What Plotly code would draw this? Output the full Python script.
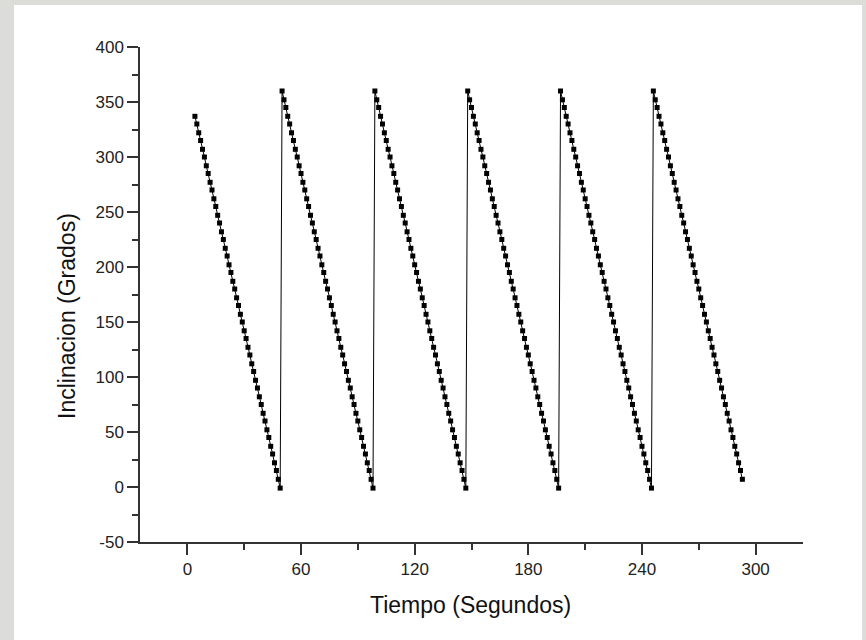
import plotly.graph_objects as go

# Sample interval 1 s; start time (s) of each descending sweep
cycle_start = [4, 50, 99, 148, 197, 246]

# Inclination (degrees) read for each sweep
cycle1 = [337, 330, 322, 315, 307, 300, 292, 285, 277, 270, 262, 255, 247, 240, 232, 225,
          217, 210, 202, 195, 187, 180, 172, 165, 157, 150, 142, 135, 127, 120, 112, 105,
          97, 90, 82, 75, 67, 60, 52, 45, 37, 30, 22, 15, 7, -1]
cycle2 = [360, 352, 345, 337, 330, 322, 315, 307, 300, 292, 285, 277, 270, 262, 255, 247,
          240, 232, 225, 217, 210, 202, 195, 187, 180, 172, 165, 157, 150, 142, 135, 127,
          120, 112, 105, 97, 90, 82, 75, 67, 60, 52, 45, 37, 30, 22, 15, 7, -1]
cycle3 = [360, 352, 345, 337, 330, 322, 315, 307, 300, 292, 285, 277, 270, 262, 255, 247,
          240, 232, 225, 217, 210, 202, 195, 187, 180, 172, 165, 157, 150, 142, 135, 127,
          120, 112, 105, 97, 90, 82, 75, 67, 60, 52, 45, 37, 30, 22, 15, 7, -1]
cycle4 = [360, 352, 345, 337, 330, 322, 315, 307, 300, 292, 285, 277, 270, 262, 255, 247,
          240, 232, 225, 217, 210, 202, 195, 187, 180, 172, 165, 157, 150, 142, 135, 127,
          120, 112, 105, 97, 90, 82, 75, 67, 60, 52, 45, 37, 30, 22, 15, 7, -1]
cycle5 = [360, 352, 345, 337, 330, 322, 315, 307, 300, 292, 285, 277, 270, 262, 255, 247,
          240, 232, 225, 217, 210, 202, 195, 187, 180, 172, 165, 157, 150, 142, 135, 127,
          120, 112, 105, 97, 90, 82, 75, 67, 60, 52, 45, 37, 30, 22, 15, 7, -1]
cycle6 = [360, 352, 345, 337, 330, 322, 315, 307, 300, 292, 285, 277, 270, 262, 255, 247,
          240, 232, 225, 217, 210, 202, 195, 187, 180, 172, 165, 157, 150, 142, 135, 127,
          120, 112, 105, 97, 90, 82, 75, 67, 60, 52, 45, 37, 30, 22, 15, 7]
cycles = [cycle1, cycle2, cycle3, cycle4, cycle5, cycle6]

x_ticks = [0, 60, 120, 180, 240, 300]
y_ticks = [-50, 0, 50, 100, 150, 200, 250, 300, 350, 400]
x_title = "Tiempo (Segundos)"
y_title = "Inclinacion (Grados)"

t, deg = [], []
for start, vals in zip(cycle_start, cycles):
    t.extend(range(start, start + len(vals)))
    deg.extend(vals)

fig = go.Figure()
fig.add_trace(go.Scatter(
    x=t, y=deg, mode="lines+markers",
    line=dict(color="black", width=1),
    marker=dict(symbol="square", size=5, color="black", line=dict(width=0)),
    showlegend=False,
))

# plot-area geometry in px
L, R, T, B = 140, 63, 47, 98
W, H = 866, 640
pw, ph = W - L - R, H - T - B


def px_x(px):
    return (px - L) / pw


def px_y(py):
    return (T + ph - py) / ph


# white panel on textured-grey page
fig.add_shape(type="rect", xref="paper", yref="paper",
              x0=px_x(14), x1=px_x(862), y0=px_y(645), y1=px_y(5),
              fillcolor="white", line=dict(width=0), layer="below")

fam = "Liberation Sans, Arial, sans-serif"
axis_font = dict(family=fam, size=17, color="#222")
title_font = dict(family=fam, size=23, color="#111")

fig.add_annotation(text=x_title, xref="paper", yref="paper", x=px_x(470), y=px_y(605),
                   xanchor="center", yanchor="middle", showarrow=False, font=title_font)
fig.add_annotation(text=y_title, xref="paper", yref="paper", x=px_x(67), y=px_y(316),
                   xanchor="center", yanchor="middle", showarrow=False, font=title_font,
                   textangle=-90)

fig.update_layout(
    width=W, height=H,
    margin=dict(l=L, r=R, t=T, b=B),
    paper_bgcolor="#dcdcd8",
    plot_bgcolor="white",
    xaxis=dict(
        range=[-25, 325], tickvals=x_ticks, ticktext=[str(v) for v in x_ticks],
        showgrid=False, zeroline=False, showline=True, linecolor="#333", linewidth=1.5,
        ticks="outside", ticklen=11, tickwidth=1.5, tickcolor="#333",
        minor=dict(dtick=30, tick0=30, ticks="outside", ticklen=6, tickwidth=1.5,
                   tickcolor="#333", showgrid=False),
        tickfont=axis_font,
    ),
    yaxis=dict(
        range=[-50, 400], tickvals=y_ticks, ticktext=[str(v) for v in y_ticks],
        showgrid=False, zeroline=False, showline=True, linecolor="#333", linewidth=1.5,
        ticks="outside", ticklen=11, tickwidth=1.5, tickcolor="#333",
        minor=dict(dtick=25, tick0=25, ticks="outside", ticklen=6, tickwidth=1.5,
                   tickcolor="#333", showgrid=False),
        tickfont=axis_font,
    ),
)

fig.write_html("out.html", config={"displayModeBar": False},
               post_script="document.body.style.margin='0';")
